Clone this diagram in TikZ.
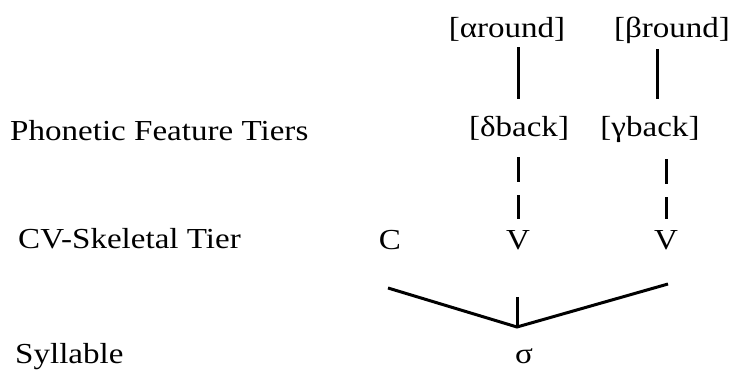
\documentclass[tikz,border=0pt]{standalone}
\usepackage{graphicx}
\usepackage{fontspec}
\setmainfont{Liberation Serif}
\newcommand\wtxt[1]{\scalebox{1.14}[1]{#1}}
\tikzset{
  lbl/.style={font=\fontsize{29}{34}\selectfont, inner sep=0pt, anchor=base},
  tierlbl/.style={lbl, anchor=base west},
  assoc/.style={line width=3pt},
  dassoc/.style={line width=3pt, dash pattern=on 25pt off 13pt},
}
\begin{document}
\begin{tikzpicture}[x=1pt,y=-1pt]
\useasboundingbox (0,0) rectangle (734,371);
% tier labels
\node[tierlbl] (pft) at (10,141) {\wtxt{Phonetic Feature Tiers}};
\node[tierlbl] (cvt) at (18,249) {\wtxt{CV-Skeletal Tier}};
\node[tierlbl] (syl) at (15,364) {\wtxt{Syllable}};
% features
\node[lbl] (ar) at (507,38) {\wtxt{[αround]}};
\node[lbl] (br) at (672,38) {\wtxt{[βround]}};
\node[lbl] (db) at (519,137) {\wtxt{[δback]}};
\node[lbl] (gb) at (650,137) {\wtxt{[γback]}};
% skeleton
\node[lbl] (c)  at (390,250) {\wtxt{C}};
\node[lbl] (v1) at (518,250) {\wtxt{V}};
\node[lbl] (v2) at (666,250) {\wtxt{V}};
\node[lbl] (s)  at (524,363) {\wtxt{σ}};
% free ends of the syllable branches
\coordinate (lend) at (388,288);
\coordinate (rend) at (668,284);
\coordinate (join) at (517,327);
\coordinate (stem) at (517,297);
% solid association lines
\draw[assoc, shorten <=5pt, shorten >=18pt] ([xshift=11pt]ar.south) -- ([xshift=-1pt]db.north);
\draw[assoc, shorten <=5pt, shorten >=18pt] ([xshift=-15pt]br.south) -- ([xshift=7pt]gb.north);
% dashed association lines
\draw[dassoc, shorten <=16pt, shorten >=12pt] (db.south -| v1.base) -- (v1.north);
\draw[dassoc, shorten <=16pt, shorten >=12pt] (gb.south -| v2.base) -- (v2.north);
% syllable
\draw[assoc, line join=miter] (lend) -- (join) -- (rend);
\draw[assoc] (stem) -- (join);
\end{tikzpicture}
\end{document}
